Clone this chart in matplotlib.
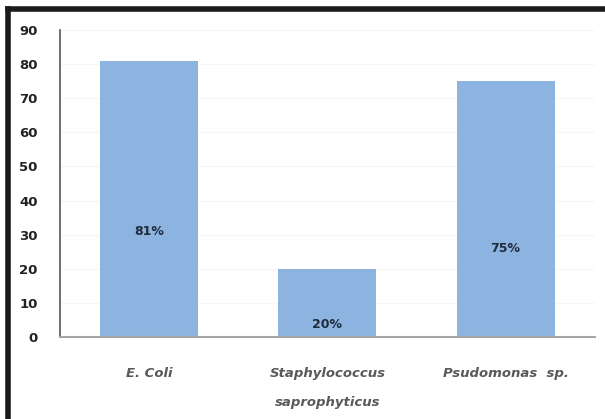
import matplotlib
matplotlib.use("Agg")
import matplotlib.pyplot as plt
from matplotlib.lines import Line2D

categories = ["E. Coli", "Staphylococcus\nsaprophyticus", "Psudomonas  sp."]
values = [81, 20, 75]
value_labels = ["81%", "20%", "75%"]
label_y = [30.8, 3.5, 26.0]
yticks = [0, 10, 20, 30, 40, 50, 60, 70, 80, 90]

plt.rcParams["font.family"] = ["DejaVu Sans"]

fig = plt.figure(figsize=(6.05, 4.19), dpi=100)
ax = fig.add_axes([0.099, 0.196, 0.884, 0.732])

x = range(len(categories))
ax.bar(x, values, width=0.55, color="#8db4e0", zorder=2)
for xi, txt, ly in zip(x, value_labels, label_y):
    ax.text(xi, ly, txt, ha="center", va="center", fontsize=9,
            fontweight="bold", color="#1f2d3d", zorder=3)

ax.set_xlim(-0.5, 2.5)
ax.set_ylim(0, 90)
ax.set_yticks(yticks)
ax.set_yticklabels([str(t) for t in yticks], fontsize=9.5, fontweight="bold",
                   color="#222222")
ax.set_xticks(list(x))
ax.set_xticklabels(categories, fontsize=9.5, fontweight="bold", style="italic",
                   color="#595959", linespacing=2.6)
ax.tick_params(axis="y", length=0, pad=16)
ax.tick_params(axis="x", length=0, pad=22)
ax.yaxis.grid(True, color="#f6f6f6", linewidth=0.8, zorder=0)
ax.set_axisbelow(True)

for side in ("top", "right"):
    ax.spines[side].set_visible(False)
ax.spines["left"].set_color("#555555")
ax.spines["left"].set_linewidth(1.2)
ax.spines["bottom"].set_color("#a6a6a6")
ax.spines["bottom"].set_linewidth(1.5)

# dark frame along the top and left edges
fig.add_artist(Line2D([0.0136, 1.0], [0.978, 0.978], transform=fig.transFigure,
                      color="#1a1a1a", linewidth=4))
fig.add_artist(Line2D([0.0136, 0.0136], [0.0, 0.978], transform=fig.transFigure,
                      color="#1a1a1a", linewidth=4))

fig.savefig("out.png", dpi=100)
